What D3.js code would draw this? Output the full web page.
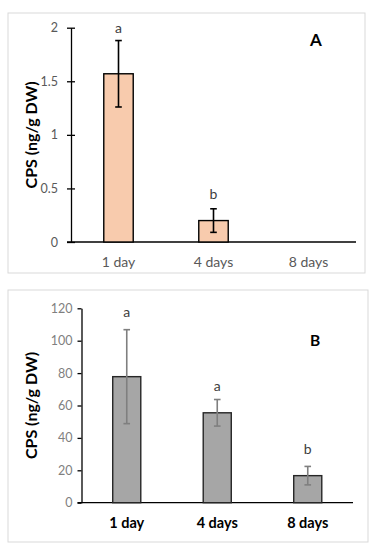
<!DOCTYPE html>
<html><head><meta charset="utf-8">
<script src="https://cdn.jsdelivr.net/npm/d3@7"></script>
<style>body{margin:0;background:#fff}svg{display:block}</style>
</head><body><svg id="c" width="375" height="550"></svg>
<script>
const categories = ["1 day", "4 days", "8 days"];
// Panel A
const valuesA = [1.57, 0.20, null];
const errorsA = [0.31, 0.11, null];
const lettersA = ["a", "b", ""];
const letterPosA = [1.95, 0.40, null];
const ticksA = [0, 0.5, 1, 1.5, 2];
// Panel B
const valuesB = [77.8, 55.5, 16.7];
const errorsB = [29.0, 8.2, 5.7];
const lettersB = ["a", "a", "b"];
const letterPosB = [114.5, 69, 30];
const ticksB = [0, 20, 40, 60, 80, 100, 120];
const yTitle = "CPS (ng/g DW)";

const svg = d3.select("#c");
const FONT = "Lato, 'Open Sans', sans-serif";

function panel(cfg) {
  const g = svg.append("g");
  g.append("rect").attr("x", cfg.box[0]).attr("y", cfg.box[1])
    .attr("width", cfg.box[2] - cfg.box[0]).attr("height", cfg.box[3] - cfg.box[1])
    .attr("fill", "#fff").attr("stroke", "#d9d9d9").attr("stroke-width", 1);

  const x = d3.scaleBand().domain(categories).range([cfg.left, cfg.right]).paddingInner(0.69).paddingOuter(0.345);
  const y = d3.scaleLinear().domain(cfg.domain).range([cfg.bottom, cfg.top]);

  // y axis
  const ya = g.append("g").attr("transform", `translate(${cfg.left},0)`)
    .call(d3.axisLeft(y).tickValues(cfg.ticks).tickFormat(d3.format("~g"))
      .tickSize(cfg.tickOut).tickPadding(cfg.tickPad).tickSizeOuter(0));
  ya.select(".domain").attr("stroke", "#000").attr("stroke-width", 1.3);
  ya.selectAll(".tick line").attr("stroke", "#000").attr("stroke-width", 1.3).attr("x2", -cfg.tickOut).attr("x1", cfg.tickIn);
  ya.selectAll(".tick text").attr("font-family", FONT).attr("font-size", cfg.tickFont).attr("fill", cfg.tickColor);

  // x axis line
  g.append("line").attr("x1", cfg.left - cfg.tickOut).attr("x2", cfg.right)
    .attr("y1", y(0)).attr("y2", y(0)).attr("stroke", "#000").attr("stroke-width", 1.3);

  // x labels
  g.selectAll(".xl").data(categories).join("text")
    .attr("x", d => x(d) + x.bandwidth() / 2).attr("y", cfg.xLabelY)
    .attr("text-anchor", "middle").attr("font-family", FONT)
    .attr("font-size", cfg.xFont).attr("font-weight", cfg.xWeight).attr("fill", cfg.xColor)
    .text(d => d);

  const data = categories.map((c, i) => ({c, v: cfg.values[i], e: cfg.errors[i], l: cfg.letters[i], lp: cfg.letterPos[i]}));
  const valid = data.filter(d => d.v != null);

  g.selectAll(".bar").data(valid).join("rect")
    .attr("x", d => x(d.c)).attr("width", x.bandwidth())
    .attr("y", d => y(d.v)).attr("height", d => y(0) - y(d.v))
    .attr("fill", cfg.fill).attr("stroke", cfg.barStroke).attr("stroke-width", 1.4);

  const eg = g.selectAll(".err").data(valid).join("g");
  const cx = d => x(d.c) + x.bandwidth() / 2;
  eg.append("line").attr("x1", cx).attr("x2", cx).attr("y1", d => y(d.v + d.e)).attr("y2", d => y(d.v - d.e))
    .attr("stroke", cfg.errColor).attr("stroke-width", 1.6);
  eg.append("line").attr("x1", d => cx(d) - 3.3).attr("x2", d => cx(d) + 3.3).attr("y1", d => y(d.v + d.e)).attr("y2", d => y(d.v + d.e))
    .attr("stroke", cfg.errColor).attr("stroke-width", 1.6);
  eg.append("line").attr("x1", d => cx(d) - 3.3).attr("x2", d => cx(d) + 3.3).attr("y1", d => y(d.v - d.e)).attr("y2", d => y(d.v - d.e))
    .attr("stroke", cfg.errColor).attr("stroke-width", 1.6);

  g.selectAll(".let").data(valid).join("text")
    .attr("x", cx).attr("y", d => y(d.lp)).attr("text-anchor", "middle")
    .attr("font-family", FONT).attr("font-size", 14).attr("fill", "#404040").text(d => d.l);

  // y title
  const mid = (cfg.top + cfg.bottom) / 2;
  g.append("text").attr("transform", `translate(${cfg.titleX},${mid}) rotate(-90)`)
    .attr("text-anchor", "middle").attr("font-family", FONT).attr("font-weight", "bold")
    .attr("font-size", 16).attr("fill", "#000").text(yTitle);

  g.append("text").attr("x", cfg.panelLabel[1]).attr("y", cfg.panelLabel[2]).attr("text-anchor", "middle")
    .attr("font-family", FONT).attr("font-weight", "bold").attr("font-size", cfg.panelLabel[3]).attr("fill", "#000")
    .text(cfg.panelLabel[0]);
}

panel({
  box: [8, 13, 365, 273], left: 71, right: 356, top: 27.7, bottom: 242,
  domain: [0, 2], ticks: ticksA, values: valuesA, errors: errorsA, letters: lettersA, letterPos: letterPosA,
  tickOut: 4, tickIn: 4, tickPad: 9, tickFont: 12.5, tickColor: "#595959",
  xLabelY: 267, xFont: 14, xWeight: "normal", xColor: "#595959",
  fill: "#f8cbad", barStroke: "#000", errColor: "#000", titleX: 37,
  panelLabel: ["A", 316, 46, 17]
});
panel({
  box: [8, 290, 368, 542], left: 81.5, right: 353, top: 308.3, bottom: 502.7,
  domain: [0, 120], ticks: ticksB, values: valuesB, errors: errorsB, letters: lettersB, letterPos: letterPosB,
  tickOut: 4, tickIn: 0, tickPad: 5, tickFont: 12.5, tickColor: "#7f7f7f",
  xLabelY: 528, xFont: 14.5, xWeight: "bold", xColor: "#000",
  fill: "#a6a6a6", barStroke: "#262626", errColor: "#7f7f7f", titleX: 37,
  panelLabel: ["B", 315, 346, 15.5]
});
</script></body></html>
